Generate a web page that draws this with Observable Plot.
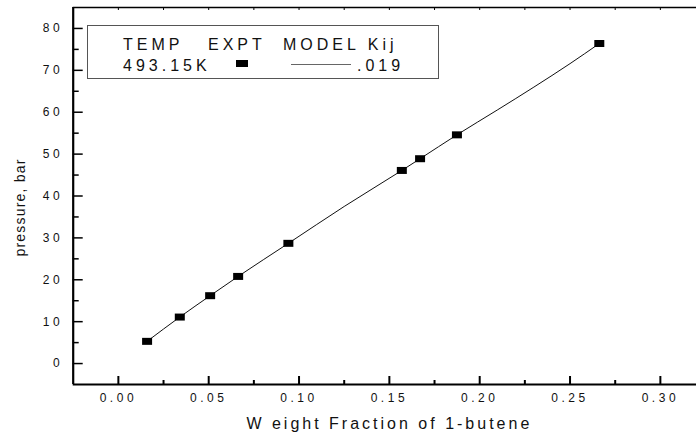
<!DOCTYPE html>
<html>
<head>
<meta charset="utf-8">
<script src="https://cdn.jsdelivr.net/npm/d3@7"></script>
<script src="https://cdn.jsdelivr.net/npm/@observablehq/plot@0.6"></script>
<style>
  html, body { margin: 0; padding: 0; background: #fff; }
  #wrap { position: relative; width: 696px; height: 440px; font-family: "Liberation Sans", Arial, sans-serif; }
  #wrap svg [aria-label="x-axis tick label"] text,
  #wrap svg [aria-label="y-axis tick label"] text { letter-spacing: 3.5px; }
  #legend { position: absolute; left: 87px; top: 25px; width: 352px; height: 54px; border: 1px solid #555; background: #fff; box-sizing: border-box; }
  #legend span { position: absolute; font-size: 16px; letter-spacing: 4px; color: #111; white-space: nowrap; line-height: 1; }
  #legend .mk { position: absolute; background: #000; }
  #legend .ln { position: absolute; height: 1px; background: #666; }
</style>
</head>
<body>
<div id="wrap"></div>
<script>
// Experimental data (EXPT), T = 493.15 K
const weightFraction = [0.0159, 0.034, 0.0508, 0.0663, 0.0941, 0.1569, 0.167, 0.1874, 0.2662];
const pressure = [5.3, 11.1, 16.2, 20.8, 28.7, 46.1, 48.9, 54.6, 76.4];
// Model curve (Kij = .019)
const modelFraction = [0.0159, 0.034, 0.0508, 0.0663, 0.0941, 0.125, 0.1569, 0.167, 0.1874, 0.21, 0.23, 0.25, 0.2662];
const modelPressure = [5.3, 11.1, 16.2, 20.8, 28.7, 37.5, 46.1, 48.9, 54.6, 60.6, 66.0, 71.6, 76.4];
// Axes
const xTicks = [0.00, 0.05, 0.10, 0.15, 0.20, 0.25, 0.30];
const xMinorTicks = [0.025, 0.075, 0.125, 0.175, 0.225, 0.275];
const yTicks = [0, 10, 20, 30, 40, 50, 60, 70, 80];
const yMinorTicks = [5, 15, 25, 35, 45, 55, 65, 75];
const xDomain = [-0.025, 0.32];
const yDomain = [-5, 85];
const xTitle = "W eight Fraction of 1-butene";
const yTitle = "pressure, bar";
const legendHeader = ["TEMP", "EXPT", "MODEL Kij"];
const legendRow = ["493.15K", ".019"];

const W = 696, H = 440;
const mL = 72.7, mR = 0, mT = 7, mB = 56;
const pw = W - mL - mR, ph = H - mT - mB;

const expt = weightFraction.map((x, i) => ({x, p: pressure[i]}));
const model = modelFraction.map((x, i) => ({x, p: modelPressure[i]}));
const rectSymbol = { draw(ctx) { ctx.rect(-5, -3.5, 10, 7); } };

const chart = Plot.plot({
  width: W, height: H,
  marginLeft: mL, marginRight: mR, marginTop: mT, marginBottom: mB,
  style: { fontFamily: "'Liberation Sans', Arial, sans-serif", fontSize: "12px", color: "#111", background: "#fff" },
  x: { domain: xDomain, ticks: xTicks, tickSize: 0, tickPadding: 9, tickFormat: d3.format(".2f"), label: null },
  y: { domain: yDomain, ticks: yTicks, tickSize: 0, tickPadding: 10, tickFormat: d => String(d), label: null },
  marks: [
    // bottom ticks (inward)
    Plot.ruleX(xTicks, { stroke: "#000", strokeWidth: 2, insetTop: ph - 8 }),
    Plot.ruleX(xMinorTicks, { stroke: "#000", strokeWidth: 2, insetTop: ph - 4 }),
    // top ticks
    Plot.ruleX(xTicks.concat(xMinorTicks), { stroke: "#000", strokeWidth: 1, insetBottom: ph - 3 }),
    // left ticks
    Plot.ruleY(yTicks, { stroke: "#000", strokeWidth: 1.5, insetRight: pw - 10 }),
    Plot.ruleY(yMinorTicks, { stroke: "#000", strokeWidth: 1.5, insetRight: pw - 6 }),
    // frame
    Plot.ruleX([xDomain[0]], { stroke: "#000", strokeWidth: 2.2 }),
    Plot.ruleY([yDomain[0]], { stroke: "#000", strokeWidth: 2.2 }),
    Plot.ruleY([yDomain[1]], { stroke: "#000", strokeWidth: 1.5 }),
    // model line
    Plot.line(model, { x: "x", y: "p", stroke: "#111", strokeWidth: 1, curve: "monotone-x" }),
    // experimental points
    Plot.dot(expt, { x: "x", y: "p", symbol: rectSymbol, fill: "#000", stroke: "none" }),
    // axis titles
    Plot.text([xTitle], { frameAnchor: "bottom", textAnchor: "middle", dx: 4.5, dy: 39, lineAnchor: "middle", fontSize: 16, fill: "#111" }),
    Plot.text([yTitle], { frameAnchor: "left", textAnchor: "middle", dx: -52.7, dy: 11.5, rotate: -90, lineAnchor: "middle", fontSize: 14, fill: "#111" })
  ]
});
d3.select(chart).selectAll("text").filter(function () { return this.textContent === xTitle; })
  .style("letter-spacing", "3px");
d3.select(chart).selectAll("text").filter(function () { return this.textContent === yTitle; })
  .style("letter-spacing", "1.2px");
document.getElementById("wrap").appendChild(chart);

const lg = document.createElement("div");
lg.id = "legend";
const put = (html, left, top) => { const s = document.createElement("span"); s.textContent = html; s.style.left = (left - 87) + "px"; s.style.top = (top - 25) + "px"; lg.appendChild(s); };
put(legendHeader[0], 122, 35.5);
put(legendHeader[1], 207, 35.5);
put(legendHeader[2], 282, 35.5);
put(legendRow[0], 122, 57);
put(legendRow[1], 356, 57);
const mk = document.createElement("div"); mk.className = "mk";
Object.assign(mk.style, { left: (235 - 87) + "px", top: (59.3 - 25) + "px", width: "12px", height: "7px" });
lg.appendChild(mk);
const ln = document.createElement("div"); ln.className = "ln";
Object.assign(ln.style, { left: (290 - 87) + "px", top: (62.5 - 25) + "px", width: "60px" });
lg.appendChild(ln);
document.getElementById("wrap").appendChild(lg);
</script>
</body>
</html>
